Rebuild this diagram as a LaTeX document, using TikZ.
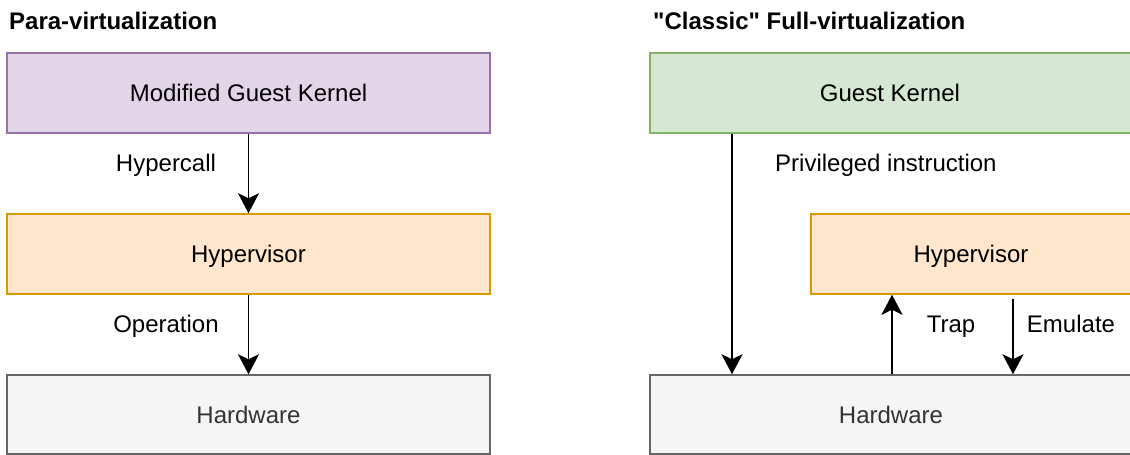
\documentclass[tikz,border=0pt]{standalone}
\usepackage{fontspec}
\setmainfont{Liberation Sans}
\usetikzlibrary{arrows.meta}

\definecolor{purplefill}{HTML}{E1D5E7}
\definecolor{purpleline}{HTML}{9673A6}
\definecolor{greenfill}{HTML}{D5E8D4}
\definecolor{greenline}{HTML}{82B366}
\definecolor{orangefill}{HTML}{FFE6CC}
\definecolor{orangeline}{HTML}{D79B00}
\definecolor{greyfill}{HTML}{F5F5F5}
\definecolor{greyline}{HTML}{666666}
\definecolor{greytext}{HTML}{333333}

\tikzset{
  txt/.style={inner sep=0pt, text height=17pt, text depth=0pt,
    font=\fontsize{24}{28}\selectfont},
  layer/.style={txt, rectangle, line width=1.5pt},
  guestpv/.style={layer, fill=purplefill, draw=purpleline},
  guestfv/.style={layer, fill=greenfill, draw=greenline},
  hyper/.style={layer, fill=orangefill, draw=orangeline},
  hwbox/.style={layer, fill=greyfill, draw=greyline, text=greytext},
  title/.style={font=\fontsize{24}{28}\selectfont\bfseries, inner sep=0pt},
  lbl/.style={txt},
  flow/.style={line width=1.6pt, -{Stealth[length=20pt, width=21pt, inset=5pt]}},
}

\begin{document}
\begin{tikzpicture}[x=1pt, y=-1pt]
\useasboundingbox (0,0) rectangle (1130,455);

% ---------- Para-virtualization ----------
\node[title, anchor=base west] (tpv) at (9,29) {Para-virtualization};
\node[guestpv, minimum width=483pt, minimum height=80pt] (mgk) at (248.5,93) {Modified Guest Kernel};
\node[hyper, minimum width=483pt, minimum height=80pt] (hvl) at (248.5,254) {Hypervisor};
\node[hwbox, minimum width=483pt, minimum height=79pt] (hwl) at (248.5,414.5) {Hardware};

\draw[flow] (mgk.south) -- (hvl.north);
\draw[flow] (hvl.south) -- (hwl.north);
\node[lbl] (lhc) at (166,163) {Hypercall};
\node[lbl] (lop) at (166,324) {Operation};

% ---------- "Classic" full virtualization ----------
\node[title, anchor=base west] (tfv) at (653,29) {\textquotedbl Classic\textquotedbl{} Full-virtualization};
\node[guestfv, minimum width=484pt, minimum height=80pt] (gk) at (892,93) {};
\node[lbl] at (890,93) {Guest Kernel};
\node[hyper, minimum width=324pt, minimum height=80pt] (hvr) at (973,254) {};
\node[lbl] at (971,254) {Hypervisor};
\node[hwbox, minimum width=484pt, minimum height=79pt] (hwr) at (892,414.5) {};
\node[lbl, text=greytext] at (891,414.5) {Hardware};

\coordinate (xpriv) at (732,0);
\coordinate (xtrap) at (892,0);
\coordinate (xemu) at (1013,0);

\draw[flow] (xpriv |- gk.south) -- (xpriv |- hwr.north);
\draw[flow, line width=2.6pt] (xtrap |- hwr.north) -- (xtrap |- hvr.south);
\draw[flow] ([yshift=-4pt]xemu |- hvr.south) -- (xemu |- hwr.north);

\node[lbl, anchor=west] (lpi) at (775,163) {Privileged instruction};
\node[lbl] (ltr) at (951,324) {Trap};
\node[lbl] (lem) at (1071,324) {Emulate};
\end{tikzpicture}
\end{document}
